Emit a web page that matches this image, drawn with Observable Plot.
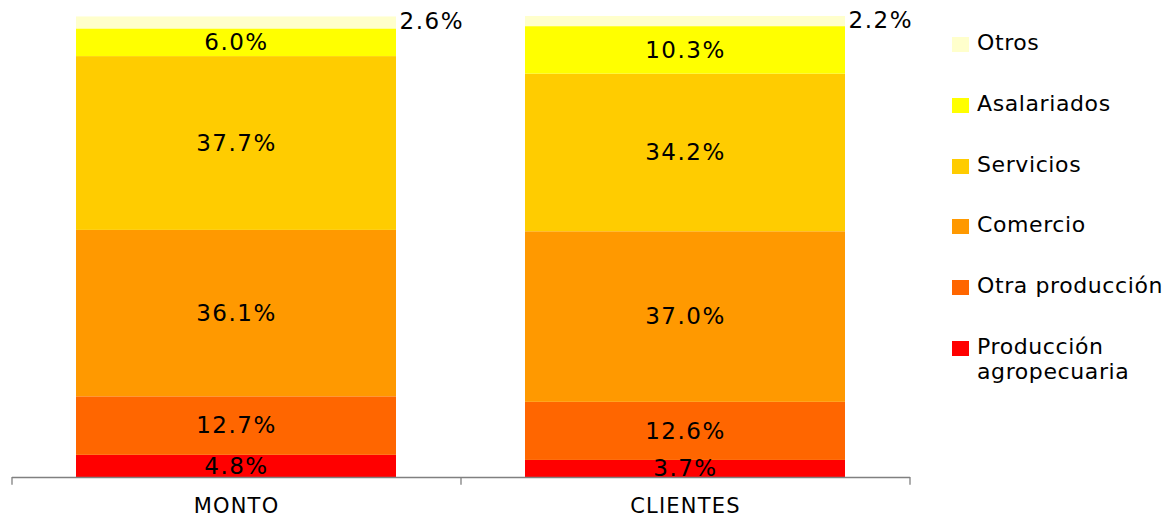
<!DOCTYPE html>
<html>
<head>
<meta charset="utf-8">
<script src="https://cdn.jsdelivr.net/npm/d3@7"></script>
<script src="https://cdn.jsdelivr.net/npm/@observablehq/plot@0.6"></script>
<style>
  html, body { margin: 0; padding: 0; background: #fff; }
  #wrap { position: relative; width: 1176px; height: 521px; font-family: "DejaVu Sans", Verdana, sans-serif; }
  #chart svg g[aria-label="text"] text { letter-spacing: 1.5px; }
  #chart svg g[aria-label="x-axis tick label"] text { letter-spacing: 1.2px; }
  #legend { position: absolute; left: 952px; top: 0; }
  .item { position: absolute; left: 0; display: flex; align-items: flex-start; white-space: nowrap; }
  .sw { width: 17px; height: 15px; margin-top: 7px; }
  .lab { margin-left: 8px; font-size: 22px; line-height: 25px; color: #000; letter-spacing: 0.6px; }
</style>
</head>
<body>
<div id="wrap">
  <div id="chart"></div>
  <div id="legend"></div>
</div>
<script>
const categories = ["MONTO", "CLIENTES"];
const series = ["Producción agropecuaria", "Otra producción", "Comercio", "Servicios", "Asalariados", "Otros"];
const colors = ["#FF0000", "#FF6600", "#FF9900", "#FFCC00", "#FFFF00", "#FFFFCC"];
const monto = [4.8, 12.7, 36.1, 37.7, 6.0, 2.6];
const clientes = [3.7, 12.6, 37.0, 34.2, 10.3, 2.2];
const valueLabels = {
  MONTO: ["4.8%", "12.7%", "36.1%", "37.7%", "6.0%", "2.6%"],
  CLIENTES: ["3.7%", "12.6%", "37.0%", "34.2%", "10.3%", "2.2%"]
};

// build stacked table
const rows = [];
[["MONTO", monto], ["CLIENTES", clientes]].forEach(([cat, vals]) => {
  let acc = 0;
  vals.forEach((v, i) => {
    rows.push({cat, series: series[i], value: v, y1: acc, y2: acc + v, mid: acc + v / 2, label: valueLabels[cat][i]});
    acc += v;
  });
});

const W = 1176, H = 521;
const mL = 12, mR = 266, mT = 16, mB = 44;
const pInner = 0.287, pOuter = pInner / 2;
const step = (W - mL - mR) / (categories.length - pInner + 2 * pOuter);
const bandW = step * (1 - pInner);
const half = step / 2;

const inside = rows.filter(d => d.series !== "Otros");
const outside = rows.filter(d => d.series === "Otros");

const chart = Plot.plot({
  width: W,
  height: H,
  marginLeft: mL,
  marginRight: mR,
  marginTop: mT,
  marginBottom: mB,
  style: {fontFamily: "DejaVu Sans, Verdana, sans-serif", background: "#fff"},
  x: {domain: categories, paddingInner: pInner, paddingOuter: pOuter, label: null},
  y: {domain: [0, 100], axis: null},
  color: {domain: series, range: colors},
  marks: [
    Plot.rectY(rows, {x: "cat", y1: "y1", y2: "y2", fill: "series"}),
    Plot.text(inside, {x: "cat", y: "mid", text: "label", fontSize: 23, fill: "#000"}),
    Plot.text(outside, {x: "cat", y: "mid", text: "label", fontSize: 23, fill: "#000", textAnchor: "start", dx: bandW / 2 + 3, dy: -1}),
    Plot.ruleY([0], {stroke: "#808080", strokeWidth: 1.3}),
    Plot.ruleX(categories, {x: d => d, y1: 0, y2: -1.7, dx: -half, stroke: "#808080", strokeWidth: 1.3}),
    Plot.ruleX(categories.slice(-1), {x: d => d, y1: 0, y2: -1.7, dx: half, stroke: "#808080", strokeWidth: 1.3}),
    Plot.axisX({tickSize: 0, tickPadding: 21, fontSize: 21, fill: "#000"})
  ]
});
document.getElementById("chart").appendChild(chart);

// legend (top to bottom: reverse of stack)
const legendTops = [30, 91, 152, 212, 273, 334];
const legend = document.getElementById("legend");
series.slice().reverse().forEach((s, i) => {
  const c = colors[series.indexOf(s)];
  const item = document.createElement("div");
  item.className = "item";
  item.style.top = legendTops[i] + "px";
  const sw = document.createElement("div");
  sw.className = "sw";
  sw.style.background = c;
  const lab = document.createElement("div");
  lab.className = "lab";
  if (s === "Producción agropecuaria") {
    lab.innerHTML = "Producción<br>agropecuaria";
  } else {
    lab.textContent = s;
  }
  item.appendChild(sw);
  item.appendChild(lab);
  legend.appendChild(item);
});
</script>
</body>
</html>
